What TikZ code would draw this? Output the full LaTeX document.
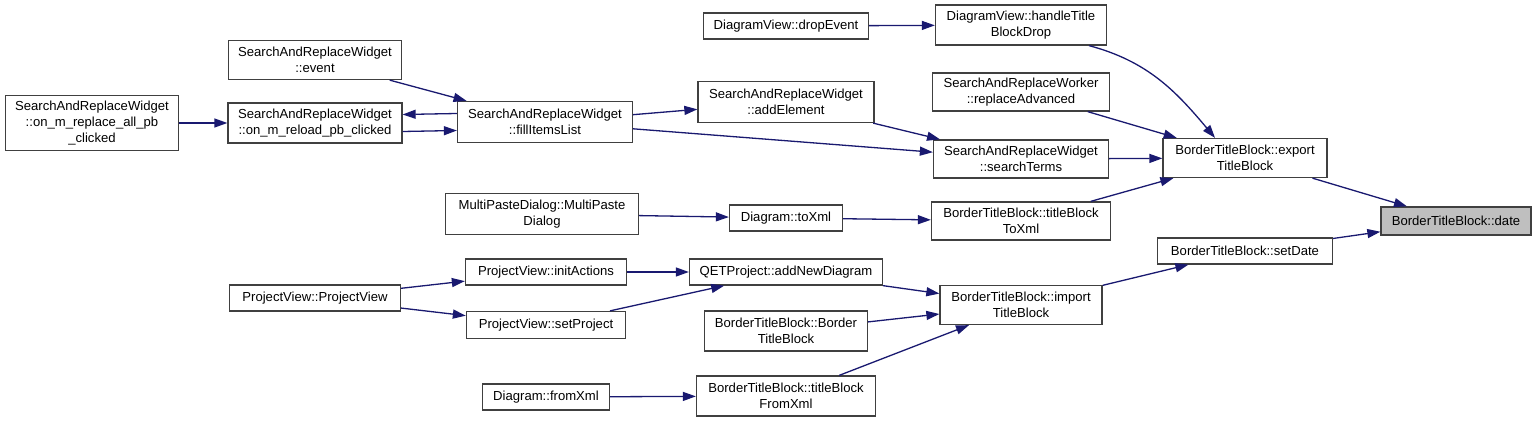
\documentclass[tikz,border=0pt]{standalone}
\usepackage{fontspec}
\setmainfont{Liberation Sans}
\usetikzlibrary{arrows.meta}
\definecolor{edgeblue}{HTML}{191970}
\definecolor{boxgray}{HTML}{404040}
\definecolor{hlgray}{HTML}{BFBFBF}
\tikzset{
  fn/.style={draw=boxgray, line width=1.3pt, fill=white, align=center, inner sep=2pt,
    font=\fontsize{13.1}{16.3}\selectfont},
  cur/.style={fn, fill=hlgray},
  call/.style={draw=edgeblue, line width=1.3pt, -{Triangle[length=13pt,width=9pt]}},
}
\begin{document}
\begin{tikzpicture}[x=1pt,y=1pt]
\useasboundingbox[fill=white] (0,0) rectangle (1536,423);
% nodes
\node[cur, minimum width=150, minimum height=28] (date) at (1456,202) {BorderTitleBlock::date};
\node[fn, minimum width=164, minimum height=39] (export) at (1245,265) {BorderTitleBlock::export\\TitleBlock};
\node[fn, minimum width=175, minimum height=26] (setdate) at (1245,172) {BorderTitleBlock::setDate};
\node[fn, minimum width=171, minimum height=40] (handle) at (1021,398) {DiagramView::handleTitle\\BlockDrop};
\node[fn, minimum width=165, minimum height=26] (drop) at (786,397) {DiagramView::dropEvent};
\node[fn, minimum width=177, minimum height=38] (advanced) at (1021,331) {SearchAndReplaceWorker\\::replaceAdvanced};
\node[fn, minimum width=175, minimum height=38] (terms) at (1021,264) {SearchAndReplaceWidget\\::searchTerms};
\node[fn, minimum width=179, minimum height=38] (toxmlblock) at (1021,202) {BorderTitleBlock::titleBlock\\ToXml};
\node[fn, minimum width=162, minimum height=39] (import) at (1021,118) {BorderTitleBlock::import\\TitleBlock};
\node[fn, minimum width=176, minimum height=41] (addelem) at (786,321) {SearchAndReplaceWidget\\::addElement};
\node[fn, minimum width=113, minimum height=26] (toxml) at (786,205) {Diagram::toXml};
\node[fn, minimum width=193, minimum height=26] (newdiag) at (786,151) {QETProject::addNewDiagram};
\node[fn, minimum width=163, minimum height=40] (btbctor) at (786,92) {BorderTitleBlock::Border\\TitleBlock};
\node[fn, minimum width=179, minimum height=40] (fromxmlblock) at (786,27) {BorderTitleBlock::titleBlock\\FromXml};
\node[fn, minimum width=175, minimum height=41] (fill) at (545,301) {SearchAndReplaceWidget\\::fillItemsList};
\node[fn, minimum width=193, minimum height=41] (paste) at (542,209) {MultiPasteDialog::MultiPaste\\Dialog};
\node[fn, minimum width=161, minimum height=26] (initact) at (546,151) {ProjectView::initActions};
\node[fn, minimum width=159, minimum height=27] (setproj) at (546,98) {ProjectView::setProject};
\node[fn, minimum width=127, minimum height=26] (fromxml) at (546,26) {Diagram::fromXml};
\node[fn, minimum width=173, minimum height=39] (event) at (315,363) {SearchAndReplaceWidget\\::event};
\node[fn, minimum width=174, minimum height=40] (reload) at (315,300) {SearchAndReplaceWidget\\::on\_m\_reload\_pb\_clicked};
\node[fn, minimum width=171, minimum height=26] (pvctor) at (315,125) {ProjectView::ProjectView};
\node[fn, minimum width=173, minimum height=55] (replall) at (92,300) {SearchAndReplaceWidget\\::on\_m\_replace\_all\_pb\\\_clicked};
% calls
\draw[call] (export) -- (date);
\draw[call] (setdate) -- (date);
\draw[call] ([xshift=-18pt]handle.south east) to[out=-15,in=130] ([xshift=-30pt]export.north);
\draw[call] (advanced) -- (export);
\draw[call] (terms) -- (export);
\draw[call] (toxmlblock) -- (export);
\draw[call] (import) -- (setdate);
\draw[call] (drop) -- (handle);
\draw[call] (addelem) -- (terms);
\draw[call] (fill) -- (terms);
\draw[call] (fill) -- (addelem);
\draw[call] (toxml) -- (toxmlblock);
\draw[call] (newdiag) -- (import);
\draw[call] (btbctor) -- (import);
\draw[call] (fromxmlblock) -- (import);
\draw[call] (event) -- (fill);
\draw[call] ([yshift=8.5pt]fill.west) -- ([yshift=8.5pt]reload.east);
\draw[call] ([yshift=-8.5pt]reload.east) -- ([yshift=-8.5pt]fill.west);
\draw[call] (replall) -- (reload);
\draw[call] (paste) -- (toxml);
\draw[call] (initact) -- (newdiag);
\draw[call] (setproj) -- (newdiag);
\draw[call] (pvctor) -- (initact);
\draw[call] (pvctor) -- (setproj);
\draw[call] (fromxml) -- (fromxmlblock);
\end{tikzpicture}
\end{document}
